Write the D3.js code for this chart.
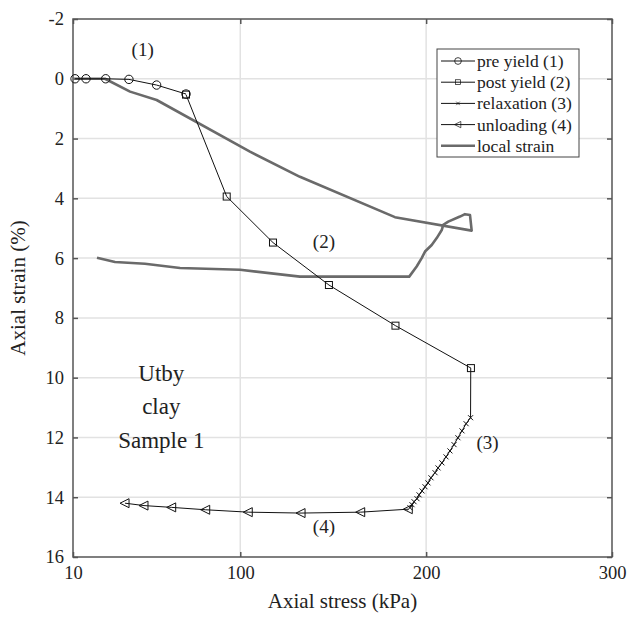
<!DOCTYPE html>
<html>
<head>
<meta charset="utf-8">
<script src="https://cdn.jsdelivr.net/npm/d3@7"></script>
<style>
  body { margin: 0; background: #fff; }
  svg text { font-family: "Liberation Serif", "Times New Roman", serif; fill: #222; }
</style>
</head>
<body>
<svg id="chart" width="630" height="617"></svg>
<script>
// x = axial stress (kPa), y = axial strain (%)
const preYieldX = [11.1, 17.0, 27.6, 40.1, 55.0, 70.8];
const preYieldY = [0.0, 0.0, 0.0, 0.02, 0.21, 0.51];

const postYieldX = [70.8, 92.7, 117.6, 147.7, 183.5, 224.1];
const postYieldY = [0.53, 3.94, 5.48, 6.90, 8.26, 9.68];

const relaxX = [224.0, 223.9, 221.5, 219.3, 217.1, 215.0, 212.8, 210.7, 208.5, 206.4, 204.8,
    202.6, 201.0, 199.4, 197.8, 196.2, 195.1, 193.5, 192.4, 191.3];
const relaxY = [9.68, 11.34, 11.54, 11.78, 12.01, 12.24, 12.45, 12.65, 12.85, 13.02, 13.18,
    13.35, 13.52, 13.65, 13.79, 13.92, 14.05, 14.15, 14.25, 14.35];

const unloadX = [190.4, 164.8, 132.7, 104.3, 81.4, 63.1, 48.2, 38.0];
const unloadY = [14.40, 14.50, 14.53, 14.50, 14.42, 14.34, 14.28, 14.20];

const localX = [10.0, 27.2, 40.7, 55.0, 105.2, 132.1, 183.2, 224.5, 223.6, 220.9, 218.2, 211.9,
    209.2, 208.4, 205.7, 203.0, 199.4, 197.6, 194.9, 190.9, 132.1, 99.9, 67.6, 48.7, 32.6, 22.9];
const localY = [0.0, 0.0, 0.43, 0.71, 2.44, 3.28, 4.63, 5.08, 4.56, 4.53, 4.61, 4.78,
    4.89, 5.06, 5.33, 5.56, 5.78, 6.00, 6.28, 6.62, 6.62, 6.39, 6.33, 6.19, 6.13, 5.99];

const xTicks = [10, 100, 200, 300];
const yTicks = [-2, 0, 2, 4, 6, 8, 10, 12, 14, 16];

const legendLabels = ['pre yield (1)', 'post yield (2)', 'relaxation (3)', 'unloading (4)', 'local strain'];

const SERIF = '"Liberation Serif", "Times New Roman", serif';
const margin = {left: 73, top: 19, right: 18, bottom: 60};
const width = 630, height = 617;

const svg = d3.select('#chart');

const x = d3.scaleLinear().domain([10, 300]).range([margin.left, width - margin.right]);
const y = d3.scaleLinear().domain([-2, 16]).range([margin.top, height - margin.bottom]);

const zip = (xs, ys) => xs.map((v, i) => [v, ys[i]]);

// grid
const grid = svg.append('g');
grid.selectAll('line.gx')
    .data(xTicks.slice(1, -1))
    .enter().append('line')
    .attr('x1', d => x(d)).attr('x2', d => x(d))
    .attr('y1', y(-2)).attr('y2', y(16))
    .attr('stroke', '#e2e2e2').attr('stroke-width', 1.5);
grid.selectAll('line.gy')
    .data(yTicks.slice(1, -1))
    .enter().append('line')
    .attr('x1', x(10)).attr('x2', x(300))
    .attr('y1', d => y(d)).attr('y2', d => y(d))
    .attr('stroke', '#e2e2e2').attr('stroke-width', 1.5);

// axes with inward ticks
const axisStyle = g => {
    g.attr('font-family', SERIF).attr('font-size', 18.5);
    g.select('.domain').remove();
    g.selectAll('.tick line').attr('stroke', '#555').attr('stroke-width', 1.5);
    g.selectAll('.tick text').attr('fill', '#222');
};
const plain = d => String(d);

svg.append('g')
    .attr('transform', `translate(0,${y(16)})`)
    .call(d3.axisBottom(x).tickValues(xTicks).tickFormat(plain).tickSizeInner(-5).tickPadding(9))
    .call(axisStyle);
svg.append('g')
    .attr('transform', `translate(0,${y(-2)})`)
    .call(d3.axisTop(x).tickValues(xTicks).tickSizeInner(-5).tickFormat(''))
    .call(axisStyle);
svg.append('g')
    .attr('transform', `translate(${x(10)},0)`)
    .call(d3.axisLeft(y).tickValues(yTicks).tickFormat(plain).tickSizeInner(-5).tickPadding(9))
    .call(axisStyle);
svg.append('g')
    .attr('transform', `translate(${x(300)},0)`)
    .call(d3.axisRight(y).tickValues(yTicks).tickSizeInner(-5).tickFormat(''))
    .call(axisStyle);

svg.append('rect')
    .attr('x', x(10)).attr('y', y(-2))
    .attr('width', x(300) - x(10)).attr('height', y(16) - y(-2))
    .attr('fill', 'none').attr('stroke', '#555').attr('stroke-width', 1.5);

// axis titles
svg.append('text')
    .attr('x', (x(10) + x(300)) / 2).attr('y', 608)
    .attr('text-anchor', 'middle').attr('font-size', 21)
    .text('Axial stress (kPa)');
svg.append('text')
    .attr('transform', `translate(25,${(y(-2) + y(16)) / 2}) rotate(-90)`)
    .attr('text-anchor', 'middle').attr('font-size', 21)
    .text('Axial strain (%)');

const line = d3.line().x(d => x(d[0])).y(d => y(d[1]));

// local strain
svg.append('path')
    .datum(zip(localX, localY))
    .attr('d', line)
    .attr('fill', 'none').attr('stroke', '#6a6a6a').attr('stroke-width', 2.6)
    .attr('stroke-linejoin', 'round');

// series lines
const series = [
    zip(preYieldX, preYieldY),
    zip(postYieldX, postYieldY),
    zip(relaxX, relaxY),
    zip(unloadX, unloadY)
];
series.forEach(s => {
    svg.append('path').datum(s).attr('d', line)
        .attr('fill', 'none').attr('stroke', '#111').attr('stroke-width', 1);
});

// marker shapes
const marker = {
    circle: (g, px, py) => g.append('circle').attr('cx', px).attr('cy', py).attr('r', 4.2)
        .attr('fill', 'none').attr('stroke', '#111').attr('stroke-width', 1),
    square: (g, px, py) => g.append('rect').attr('x', px - 3.5).attr('y', py - 3.5)
        .attr('width', 7).attr('height', 7)
        .attr('fill', 'none').attr('stroke', '#111').attr('stroke-width', 1),
    cross: (g, px, py) => g.append('path')
        .attr('d', `M${px - 2.5},${py - 2.5}L${px + 2.5},${py + 2.5}M${px - 2.5},${py + 2.5}L${px + 2.5},${py - 2.5}`)
        .attr('stroke', '#111').attr('stroke-width', 1),
    triangle: (g, px, py) => g.append('path')
        .attr('d', `M${px - 5},${py}L${px + 4},${py - 4.5}L${px + 4},${py + 4.5}Z`)
        .attr('fill', 'none').attr('stroke', '#111').attr('stroke-width', 1)
};

const marks = svg.append('g');
zip(preYieldX, preYieldY).forEach(d => marker.circle(marks, x(d[0]), y(d[1])));
zip(postYieldX, postYieldY).forEach(d => marker.square(marks, x(d[0]), y(d[1])));
zip(relaxX, relaxY).slice(1).forEach(d => marker.cross(marks, x(d[0]), y(d[1])));
zip(unloadX, unloadY).forEach(d => marker.triangle(marks, x(d[0]), y(d[1])));

// annotations
const notes = [
    {t: '(1)', v: [47.5, -0.95]},
    {t: '(2)', v: [145, 5.45]},
    {t: '(3)', v: [233, 12.2]},
    {t: '(4)', v: [145, 15.0]}
];
svg.selectAll('text.note')
    .data(notes).enter().append('text')
    .attr('x', d => x(d.v[0])).attr('y', d => y(d.v[1]) + 6)
    .attr('text-anchor', 'middle').attr('font-size', 19)
    .text(d => d.t);

const sampleText = ['Utby', 'clay', 'Sample 1'];
svg.selectAll('text.sample')
    .data(sampleText).enter().append('text')
    .attr('x', x(57.5)).attr('y', (d, i) => y(9.83) + i * 33.5 + 8)
    .attr('text-anchor', 'middle').attr('font-size', 23)
    .text(d => d);

// legend
const lg = svg.append('g').attr('transform', 'translate(437,49)');
lg.append('rect').attr('width', 142).attr('height', 108)
    .attr('fill', '#fff').attr('stroke', '#444').attr('stroke-width', 1);
const kinds = ['circle', 'square', 'cross', 'triangle', null];
legendLabels.forEach((lab, i) => {
    const ry = 12 + i * 21.2;
    if (kinds[i]) {
        lg.append('line').attr('x1', 4).attr('x2', 38).attr('y1', ry).attr('y2', ry)
            .attr('stroke', '#111').attr('stroke-width', 1);
        const s = kinds[i] === 'circle' ? 0.8 : 0.7;
        const g = lg.append('g').attr('transform', `translate(21,${ry}) scale(${s})`);
        marker[kinds[i]](g, 0, 0);
    } else {
        lg.append('line').attr('x1', 4).attr('x2', 38).attr('y1', ry).attr('y2', ry)
            .attr('stroke', '#6a6a6a').attr('stroke-width', 2.6);
    }
    lg.append('text').attr('x', 40).attr('y', ry + 6)
        .attr('font-size', 17.5).text(lab);
});
</script>
</body>
</html>
